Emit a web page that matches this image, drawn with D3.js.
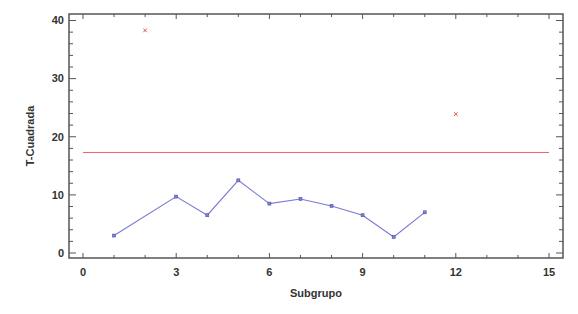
<!DOCTYPE html>
<html>
<head>
<meta charset="utf-8">
<script src="https://cdn.jsdelivr.net/npm/d3@7"></script>
<style>
  body { margin: 0; background: #fff; }
  text { font-family: "Liberation Sans", Arial, sans-serif; font-weight: bold; fill: #333; }
</style>
</head>
<body>
<div id="chart"></div>
<script>
// T-squared per subgroup (in control), out-of-control points, UCL
const subgroups = [1, 3, 4, 5, 6, 7, 8, 9, 10, 11];
const tsq = [3.0, 9.7, 6.5, 12.5, 8.5, 9.3, 8.1, 6.5, 2.75, 7.0];
const outSubgroups = [2, 12];
const outValues = [38.3, 23.9];
const ucl = 17.3;
const xTicks = [0, 3, 6, 9, 12, 15];
const yTicks = [0, 10, 20, 30, 40];

const width = 578, height = 314;
const margin = { top: 14, right: 15, bottom: 56, left: 69 };

const svg = d3.select("#chart").append("svg")
  .attr("width", width)
  .attr("height", height);

const x = d3.scaleLinear().domain([-0.45, 15.45]).range([margin.left, width - margin.right]);
const y = d3.scaleLinear().domain([-0.86, 41.12]).range([height - margin.bottom, margin.top]);

const g = svg.append("g");

// frame
g.append("rect")
  .attr("x", margin.left).attr("y", margin.top)
  .attr("width", width - margin.left - margin.right)
  .attr("height", height - margin.top - margin.bottom)
  .attr("fill", "none").attr("stroke", "#555").attr("stroke-width", 1.5);

const x0 = margin.left, x1 = width - margin.right;
const y0 = height - margin.bottom, y1 = margin.top;

// ticks pointing inward on all four sides
const xMinor = d3.range(0, 16, 1);
const yMinor = d3.range(0, 41, 2);
xMinor.forEach(v => {
  const len = v % 3 === 0 ? 5 : 3;
  g.append("line").attr("x1", x(v)).attr("x2", x(v)).attr("y1", y0).attr("y2", y0 - len).attr("stroke", "#555");
  g.append("line").attr("x1", x(v)).attr("x2", x(v)).attr("y1", y1).attr("y2", y1 + len).attr("stroke", "#555");
});
yMinor.forEach(v => {
  const len = v % 10 === 0 ? 7 : 4;
  g.append("line").attr("y1", y(v)).attr("y2", y(v)).attr("x1", x0).attr("x2", x0 + len).attr("stroke", "#555");
  g.append("line").attr("y1", y(v)).attr("y2", y(v)).attr("x1", x1).attr("x2", x1 - len).attr("stroke", "#555");
});

// tick labels
g.selectAll(".xl").data(xTicks).enter().append("text")
  .attr("x", d => x(d)).attr("y", y0 + 18)
  .attr("text-anchor", "middle").style("font-size", "11px")
  .text(d => d);
g.selectAll(".yl").data(yTicks).enter().append("text")
  .attr("x", x0 - 5).attr("y", d => y(d)).attr("dy", "0.35em")
  .attr("text-anchor", "end").style("font-size", "11px")
  .text(d => d);

// axis titles
svg.append("text")
  .attr("x", (x0 + x1) / 2).attr("y", 297)
  .attr("text-anchor", "middle").style("font-size", "11px")
  .text("Subgrupo");
svg.append("text")
  .attr("transform", `translate(34,${(y0 + y1) / 2}) rotate(-90)`)
  .attr("text-anchor", "middle").style("font-size", "11px")
  .text("T-Cuadrada");

// UCL
g.append("line")
  .attr("x1", x(0)).attr("x2", x(15))
  .attr("y1", y(ucl)).attr("y2", y(ucl))
  .attr("stroke", "#f06060").attr("stroke-width", 1);

// series line
const pts = subgroups.map((s, i) => [s, tsq[i]]);
g.append("path")
  .datum(pts)
  .attr("fill", "none")
  .attr("stroke", "#7a7ad4")
  .attr("stroke-width", 1.1)
  .attr("d", d3.line().x(d => x(d[0])).y(d => y(d[1])));

g.selectAll(".pt").data(pts).enter().append("rect")
  .attr("x", d => x(d[0]) - 1.5).attr("y", d => y(d[1]) - 1.5)
  .attr("width", 3).attr("height", 3)
  .attr("fill", "#8080cc").attr("stroke", "#5050aa").attr("stroke-width", 0.6);

// out-of-control markers
outSubgroups.forEach((s, i) => {
  const cx = x(s), cy = y(outValues[i]);
  g.append("path")
    .attr("d", `M${cx - 1.8},${cy - 1.8}L${cx + 1.8},${cy + 1.8}M${cx - 1.8},${cy + 1.8}L${cx + 1.8},${cy - 1.8}`)
    .attr("stroke", "#e05050").attr("stroke-width", 1);
});
</script>
</body>
</html>
